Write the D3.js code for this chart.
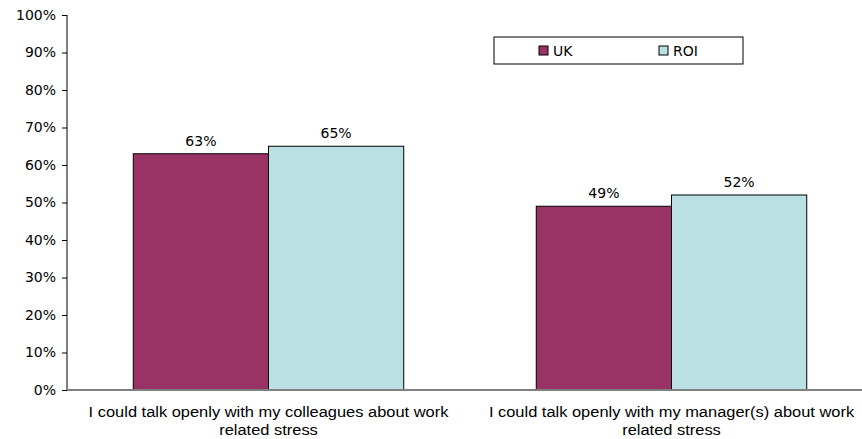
<!DOCTYPE html>
<html>
<head>
<meta charset="utf-8">
<script src="https://cdnjs.cloudflare.com/ajax/libs/d3/7.8.5/d3.min.js"></script>
<style>
  body { margin: 0; background: #fff; }
  svg text { fill: #000; }
</style>
</head>
<body>
<div id="chart"></div>
<script>
var width = 862;
var height = 439;

// two statements, two countries
var categories = [
  ["I could talk openly with my colleagues about work", "related stress"],
  ["I could talk openly with my manager(s) about work", "related stress"]
];
var seriesNames = ["UK", "ROI"];
var ukValues = [63, 49];
var roiValues = [65, 52];
var yTicks = [0, 10, 20, 30, 40, 50, 60, 70, 80, 90, 100];
var colors = {UK: "#993366", ROI: "#bbe0e3"};

var svg = d3.select("#chart").append("svg")
    .attr("width", width)
    .attr("height", height);

var x = d3.scaleBand()
    .domain(d3.range(categories.length))
    .range([67, 873]);

var x1 = d3.scaleBand()
    .domain(seriesNames)
    .range([0, x.bandwidth()])
    .paddingInner(0)
    .paddingOuter(0.49);

var y = d3.scaleLinear()
    .domain([0, 100])
    .range([390, 15]);

/***** y axis *****/
var yAxisGroup = svg.append("g").attr("transform", "translate(67,0)");
var yAxis = d3.axisLeft(y)
    .tickValues(yTicks)
    .tickSize(5)
    .tickPadding(6)
    .tickFormat(function (d) { return d + "%"; });
yAxis(yAxisGroup);
yAxisGroup.select(".domain").attr("stroke", "#000").attr("d", "M0,15V390");
yAxisGroup.selectAll(".tick line").attr("stroke", "#000");
yAxisGroup.selectAll(".tick text")
    .style("font-family", "Tahoma, 'DejaVu Sans', sans-serif")
    .style("font-size", "14px");

/***** bars *****/
var data = [];
categories.forEach(function (c, i) {
  data.push({cat: i, s: "UK", v: ukValues[i]});
  data.push({cat: i, s: "ROI", v: roiValues[i]});
});

svg.append("g").selectAll("rect")
  .data(data)
  .enter().append("rect")
    .attr("x", function (d) { return x(d.cat) + x1(d.s); })
    .attr("y", function (d) { return y(d.v); })
    .attr("width", x1.bandwidth())
    .attr("height", function (d) { return y(0) - y(d.v); })
    .attr("fill", function (d) { return colors[d.s]; })
    .attr("stroke", "#000")
    .attr("stroke-width", 1);

svg.append("g").selectAll("text")
  .data(data)
  .enter().append("text")
    .attr("x", function (d) { return x(d.cat) + x1(d.s) + x1.bandwidth() / 2; })
    .attr("y", function (d) { return y(d.v) - 8; })
    .attr("text-anchor", "middle")
    .style("font-family", "Tahoma, 'DejaVu Sans', sans-serif")
    .style("font-size", "14px")
    .text(function (d) { return d.v + "%"; });

/***** x axis line *****/
svg.append("line")
    .attr("x1", 67).attr("x2", width)
    .attr("y1", y(0)).attr("y2", y(0))
    .attr("stroke", "#808080")
    .attr("stroke-width", 2);

/***** category labels *****/
var catLabels = svg.append("g").selectAll("g")
  .data(categories)
  .enter().append("g")
    .attr("transform", function (d, i) {
      return "translate(" + (x(i) + x.bandwidth() / 2) + ",0) scale(1.06,1)";
    })
  .append("text")
    .attr("text-anchor", "middle")
    .style("font-family", "'Liberation Sans', Arial, sans-serif")
    .style("font-size", "15.5px");
catLabels.selectAll("tspan")
  .data(function (d) { return d; })
  .enter().append("tspan")
    .attr("x", 0)
    .attr("y", function (d, j) { return 417 + j * 18; })
    .text(function (d) { return d; });

/***** legend *****/
var legend = svg.append("g").attr("transform", "translate(494,37)");
legend.append("rect")
    .attr("width", 249).attr("height", 27)
    .attr("fill", "#fff").attr("stroke", "#000");
var legendItems = legend.selectAll(".item")
  .data(seriesNames)
  .enter().append("g")
    .attr("transform", function (d, i) { return "translate(" + (45 + i * 120) + ",9)"; });
legendItems.append("rect")
    .attr("width", 9).attr("height", 9)
    .attr("fill", function (d) { return colors[d]; })
    .attr("stroke", "#000");
legendItems.append("text")
    .attr("x", 14).attr("y", 10)
    .style("font-family", "Tahoma, 'DejaVu Sans', sans-serif")
    .style("font-size", "14px")
    .text(function (d) { return d; });
</script>
</body>
</html>
